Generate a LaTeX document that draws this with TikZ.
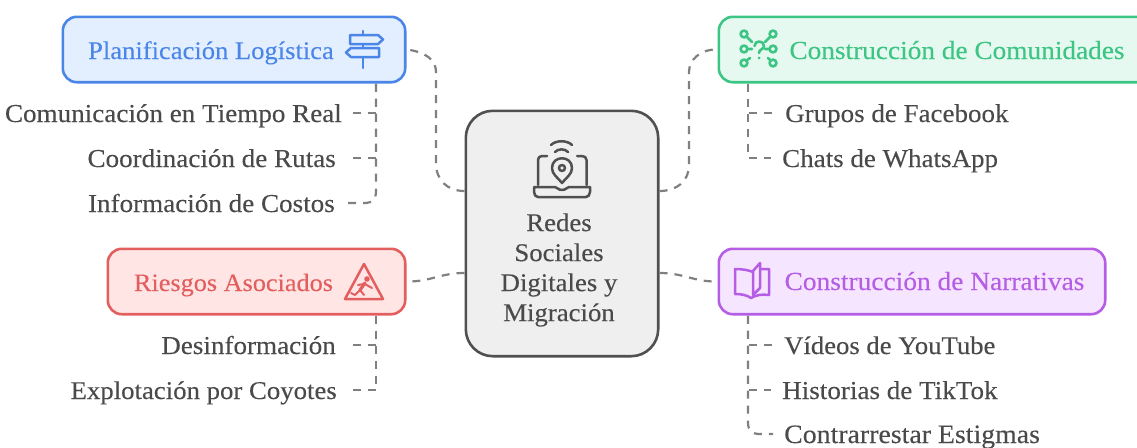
\documentclass[tikz,border=0pt]{standalone}
\usepackage{fontspec}
\setmainfont[FakeStretch=1.05,FakeBold=0.2]{Liberation Serif}
\usetikzlibrary{calc}
\definecolor{bluS}{HTML}{4A86E8}\definecolor{bluF}{HTML}{E3EEFF}
\definecolor{redS}{HTML}{E35F5F}\definecolor{redF}{HTML}{FFE6E5}
\definecolor{greS}{HTML}{3CC583}\definecolor{greF}{HTML}{E6F9F1}
\definecolor{purS}{HTML}{B55EE5}\definecolor{purF}{HTML}{F6E5FF}
\definecolor{cenS}{HTML}{505050}\definecolor{cenF}{HTML}{EFEFEF}
\definecolor{txt}{HTML}{4A4A4A}\definecolor{lin}{HTML}{808080}
\tikzset{
 x=1pt,y=-1pt,
 box/.style={draw,line width=2.6pt,rounded corners=14pt,inner sep=0pt,anchor=north west},
 conn/.style={draw=lin,line width=2.2pt,dash pattern=on 8pt off 7pt},
 lab/.style={font=\fontsize{25.8}{30}\selectfont,inner sep=0pt,anchor=base},
 fs/.style={font=\fontsize{#1}{30}\selectfont},
 itemL/.style={lab,text=txt,anchor=base east,inner xsep=11pt,inner ysep=0pt,text height=20pt,text depth=2pt},
 itemR/.style={lab,text=txt,anchor=base west,inner xsep=11pt,inner ysep=0pt,text height=20pt,text depth=2pt},
 ico/.style={line width=2.5pt,line cap=round,line join=round},
}
\begin{document}
\begin{tikzpicture}
\useasboundingbox (0,0) rectangle (1137,447);
\clip (0,0) rectangle (1137,447);
\fill[white] (0,0) rectangle (1137,447);
% boxes
\node[box,draw=bluS,fill=bluF,minimum width=342.4pt,minimum height=65.4pt] (blue) at (61.5,15.5) {};
\node[box,draw=redS,fill=redF,minimum width=297.4pt,minimum height=65.4pt] (red) at (106.5,247.5) {};
\node[box,draw=greS,fill=greF,minimum width=460pt,minimum height=65.4pt] (green) at (717.5,15.5) {};
\node[box,draw=purS,fill=purF,minimum width=386.4pt,minimum height=65.4pt] (purple) at (717.5,247.5) {};
\node[box,draw=cenS,fill=cenF,rounded corners=27pt,minimum width=192.4pt,minimum height=245.4pt] (center) at (464.5,109.5) {};
% box labels
\node[lab,fs=25.3,text=bluS] (lblue) at (211,59) {Planificación Logística};
\node[lab,fs=25,text=redS] (lred) at (233.5,291) {Riesgos Asociados};
\node[lab,fs=26,text=greS] (lgreen) at (957,59) {Construcción de Comunidades};
\node[lab,fs=26.1,text=purS] (lpurple) at (934.5,290) {Construcción de Narrativas};
\node[lab,fs=25.5,text=txt,anchor=center,align=center] (lcenter) at (559,270) {Redes\\Sociales\\Digitales y\\Migración};
% items
\node[itemL] (a1) at (353,122) {Comunicación en Tiempo Real};
\node[itemL] (a2) at (347,167) {Coordinación de Rutas};
\node[itemL] (a3) at (346,212) {Información de Costos};
\node[itemL] (b1) at (347,354) {Desinformación};
\node[itemL,fs=25.5] (b2) at (348,399) {Explotación por Coyotes};
\node[itemR,fs=25.7] (c1) at (774,122) {Grupos de Facebook};
\node[itemR,fs=25.7] (c2) at (771,167) {Chats de WhatsApp};
\node[itemR,fs=25.4] (d1) at (773,354) {Vídeos de YouTube};
\node[itemR] (d2) at (771,399) {Historias de TikTok};
\node[itemR,fs=26.5] (d3) at (773,443) {Contrarrestar Estigmas};
% anchors
\coordinate (bt) at ($(blue.south west)+(314.5,0)$);
\coordinate (rt) at ($(red.south west)+(269.5,0)$);
\coordinate (gt) at ($(green.south west)+(30.5,0)$);
\coordinate (pt) at ($(purple.south west)+(30.5,0)$);
\coordinate (cl1) at ($(center.north west)+(0,81.5)$);
\coordinate (cl2) at ($(center.north west)+(0,163.5)$);
\coordinate (cr1) at ($(center.north east)+(0,81.5)$);
\coordinate (cr2) at ($(center.north east)+(0,163.5)$);
% connectors
\draw[conn] (cl1) .. controls (447,191) and (436,180) .. (436,163) -- (436,72) .. controls (436,60) and (426,52) .. (blue.east);
\draw[conn] (cl2) .. controls (440,273) and (430,282) .. (red.east);
\draw[conn] (cr1) .. controls (677,191) and (689,181) .. (689,165) -- (689,72) .. controls (689,60) and (700,49) .. (green.west);
\draw[conn] (cr2) .. controls (684,273) and (694,282) .. (purple.west);
\draw[conn] (bt) |- (a1.east);
\draw[conn] (bt) |- (a2.east);
\draw[conn,rounded corners=10pt] (bt) |- (a3.east);
\draw[conn] (rt) |- (b1.east);
\draw[conn] (rt) |- (b2.east);
\draw[conn] (gt) |- (c1.west);
\draw[conn] (gt) |- (c2.west);
\draw[conn] (pt) |- (d1.west);
\draw[conn] (pt) |- (d2.west);
\draw[conn,rounded corners=10pt] (pt) |- (d3.west);
% signpost icon
\begin{scope}[ico,draw=bluS]
\draw (363,31) -- (363,35) (363,57) -- (363,68) (363,44) -- (363,48);
\draw (350,35) -- (378,35) -- (383,39.5) -- (378,44) -- (350,44) -- cycle;
\draw (379,48) -- (351,48) -- (346,52.5) -- (351,57) -- (379,57) -- cycle;
\end{scope}
% network icon
\begin{scope}[ico,draw=greS,line width=2.6pt]
\draw (744,34) circle[radius=3.4pt] (773,34) circle[radius=3.4pt] (744,49) circle[radius=3.4pt] (773,49) circle[radius=3.4pt] (744,63) circle[radius=3.4pt] (773,63) circle[radius=3.4pt];
\draw (746.5,36.5) -- (752,42) (770.5,36.5) -- (765,42) (747.5,49) -- (752,49) (769.5,49) -- (765,49) (746.5,60.5) -- (750,58) (770.5,60.5) -- (768,58);
\draw (754.5,46) .. controls (754.5,40) and (764,40) .. (764,46) .. controls (764,49.5) and (759,49) .. (759,53);
\fill[greS] (759,58) circle[radius=1.5pt];
\end{scope}
% warning icon
\begin{scope}[ico,draw=redS]
\draw (364,264) -- (383,299) -- (345,299) -- cycle;
\fill[redS] (367,279) circle[radius=2.8pt];
\draw[line width=3.2pt] (365,283) -- (360,290);
\draw[line width=2pt] (365,284) -- (372,288) (364,284) -- (358,285);
\draw[line width=2pt] (360,290) -- (364,295) (360,290) -- (355,295) -- (351,293);
\end{scope}
% book icon
\begin{scope}[ico,draw=purS]
\draw (753,272) .. controls (748,270) and (742,269) .. (735,269) -- (735,294) .. controls (741,294) and (747,295) .. (751,298) .. controls (756,295) and (762,294) .. (769,295) -- (769,269) -- (761,269);
\draw (753,271) -- (760,263) -- (760,288) -- (753,295) -- cycle;
\end{scope}
% laptop icon
\begin{scope}[ico,draw=cenS]
\draw (547,156) -- (542,156) .. controls (539.5,156) and (538,157.5) .. (538,160) -- (538,185);
\draw (577,156) -- (582,156) .. controls (584.5,156) and (586.5,157.5) .. (586.5,160) -- (586.5,185);
\draw (537,187) -- (555,187) .. controls (557,187) and (558,190) .. (562,190) .. controls (566,190) and (567,187) .. (569,187) -- (590,187) -- (590,192) .. controls (590,195) and (588,197) .. (586,197) -- (538,197) .. controls (536,197) and (534,195) .. (534,192) -- (534,187) -- (537,187);
\draw (562,183) .. controls (557,177) and (552,174) .. (552,168) .. controls (552,155) and (572,155) .. (572,168) .. controls (572,174) and (567,177) .. (562,183) -- cycle;
\draw (562,168) circle[radius=3pt];
\draw (551,145) .. controls (556,140) and (567,140) .. (572,145);
\draw (555,152) .. controls (558,148.5) and (565,148.5) .. (568,152);
\end{scope}
\end{tikzpicture}
\end{document}
